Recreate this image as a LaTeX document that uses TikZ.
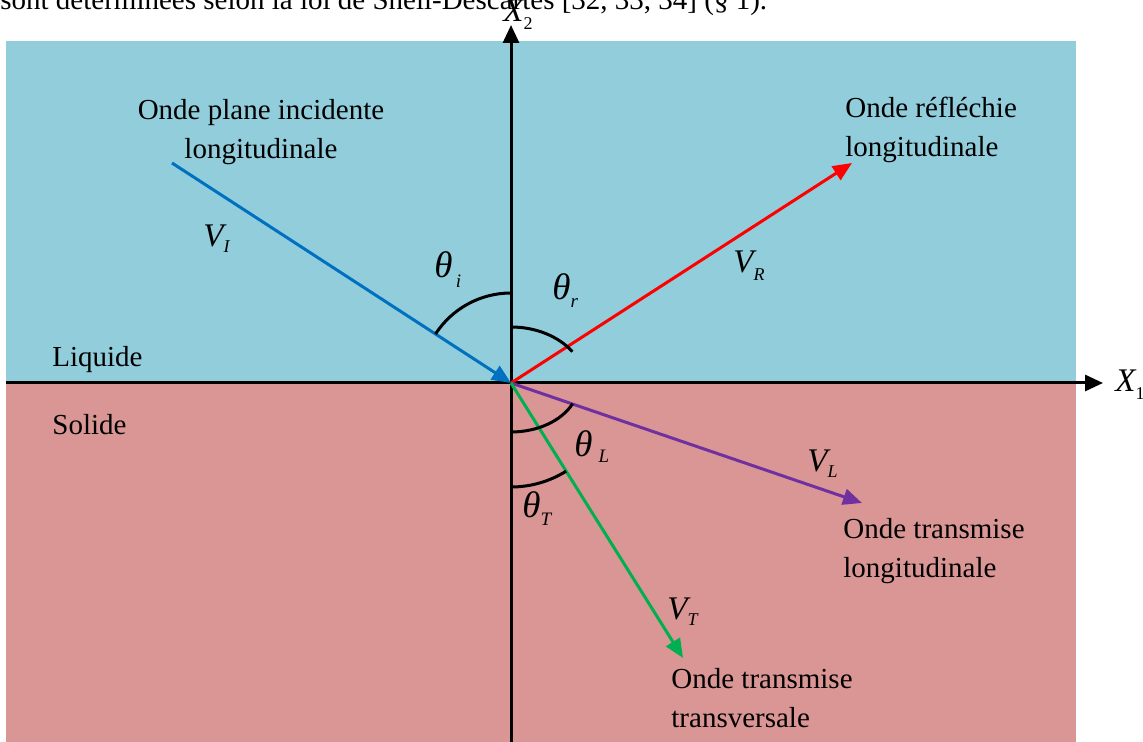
\documentclass[tikz,border=0pt]{standalone}
\usepackage{fontspec}
\setmainfont{Liberation Serif}
\usepackage{tikz}
\usetikzlibrary{arrows.meta}

\definecolor{liquide}{RGB}{146,205,220}
\definecolor{solide}{RGB}{217,150,148}
\definecolor{rayI}{RGB}{0,112,192}
\definecolor{rayR}{RGB}{255,0,0}
\definecolor{rayL}{RGB}{112,48,160}
\definecolor{rayT}{RGB}{0,176,80}

% symbole italique avec indice abaisse
\newcommand{\sym}[3][4pt]{{\fontsize{16.5}{18}\selectfont\itshape #2}\raisebox{-#1}{\fontsize{9}{9}\selectfont\itshape #3}}
\newcommand{\ang}[3][4pt]{{\fontsize{18.5}{20}\selectfont\itshape #2}\raisebox{-#1}{\fontsize{9.5}{9.5}\selectfont\itshape #3}}

\begin{document}
\begin{tikzpicture}[x=0.5pt,y=0.5pt,
    every node/.style={font=\fontsize{14.5}{19.5}\selectfont, inner sep=0pt},
    axis/.style={line width=1.5pt, -{Triangle[length=9pt,width=8pt]}},
    ray/.style={line width=1.5pt, -{Triangle[length=9.5pt,width=8pt]}},
    anglearc/.style={line width=1.5pt}]
  \useasboundingbox (0,0) rectangle (1143,742);
  \clip (0,0) rectangle (1143,742);
  \fill[liquide] (6,359) rectangle (1076,701);
  \fill[solide] (6,0) rectangle (1076,359);
  \coordinate (O) at (511,359);
  \coordinate (I) at (172,579);
  \coordinate (R) at (852,579);
  \coordinate (L) at (862,239);
  \coordinate (T) at (683,84);
  % axes
  \draw[axis] (6,359) -- (1103,359) coordinate (X1);
  \draw[axis] (511,0) -- (511,717) coordinate (X2);
  % ondes
  \draw[ray, rayI] (I) -- (O);
  \draw[ray, rayR] (O) -- (R);
  \draw[ray, rayL] (O) -- (L);
  \draw[ray, rayT] (O) -- (T);
  % angles
  \draw[anglearc] ([shift={(0,90)}]O) arc[start angle=90, end angle=147, radius=90];
  \draw[anglearc] ([shift={(0,56)}]O) arc[start angle=90, end angle=34, x radius=74, y radius=56];
  \draw[anglearc] ([shift={(0,-49)}]O) arc[start angle=-90, end angle=-25, x radius=68, y radius=49];
  \draw[anglearc] ([shift={(0,-104)}]O) arc[start angle=-90, end angle=-58, radius=104];
  % textes
  \node[anchor=base west] (phrase) at (0,732) {sont déterminées selon la loi de Snell-Descartes [32, 33, 34] (§ 1).};
  \node[anchor=base west] (x2) at (503,720) {\sym{X}{\upshape 2}};
  \node[anchor=base west] (x1) at (1115,350) {\sym{X}{\upshape 1}};
  \node[anchor=base west] (liq) at (52,375) {Liquide};
  \node[anchor=base west] (sol) at (52,307) {Solide};
  \node[anchor=base, align=center] (inc) at (261,583) {Onde plane incidente\\longitudinale};
  \node[anchor=base west, align=left] (refl) at (845,585) {Onde réfléchie\\longitudinale};
  \node[anchor=base west, align=left] (trL) at (843,164) {Onde transmise\\longitudinale};
  \node[anchor=base west, align=left] (trT) at (671,14) {Onde transmise\\transversale};
  \node[anchor=base west] (vi) at (203,495) {\sym[3pt]{V}{I}};
  \node[anchor=base west] (vr) at (733,469) {\sym{V}{R}};
  \node[anchor=base west] (vl) at (807,270) {\sym[3pt]{V}{L}};
  \node[anchor=base west] (vt) at (667,122) {\sym[3pt]{V}{T}};
  \node[anchor=base west] (ti) at (434,464) {\ang[5pt]{θ}{\,i}};
  \node[anchor=base west] (tr) at (552,442) {\ang{θ}{r}};
  \node[anchor=base west] (tl) at (574,285) {\ang[3pt]{θ}{\hspace{3pt}L}};
  \node[anchor=base west] (tt) at (522,224) {\ang{θ}{T}};
\end{tikzpicture}
\end{document}
